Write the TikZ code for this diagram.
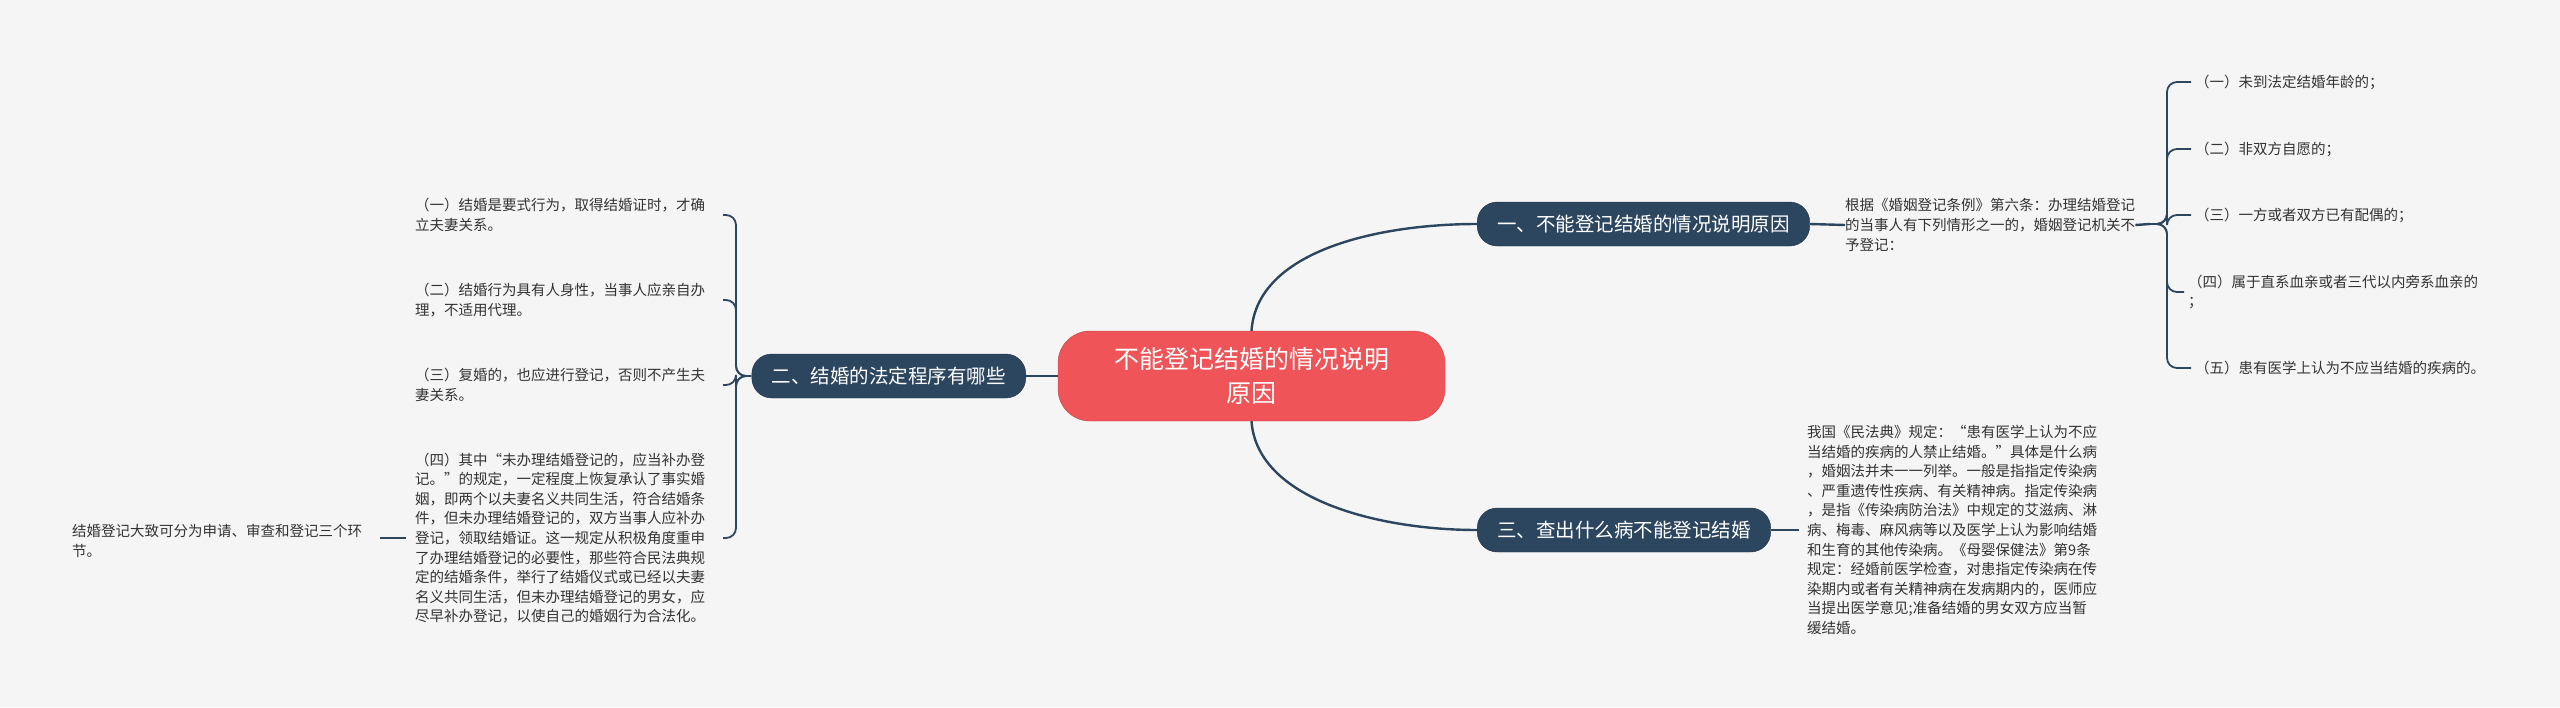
\documentclass[tikz,border=0pt]{standalone}
\usepackage{fontspec}
\setmainfont{Noto Sans CJK SC}
\definecolor{bg}{HTML}{F5F5F5}
\definecolor{navy}{HTML}{2C4660}
\definecolor{redc}{HTML}{EF5558}
\definecolor{txt}{HTML}{333333}
\begin{document}
\begin{tikzpicture}[x=1pt,y=-1pt,
  small/.style={font=\fontsize{14.5}{19.6}\selectfont,text=txt,align=left,inner sep=0pt},
  branch/.style={fill=navy,draw=navy!70!black,rounded corners=20pt,text=white,
     font=\fontsize{19.5}{24}\selectfont,minimum height=44pt,inner xsep=20pt,inner ysep=0pt},
  conn/.style={draw=navy,line width=2.4pt}]
\fill[bg] (0,0) rectangle (2560,707);
\useasboundingbox (0,0) rectangle (2560,707);
% center
\node[fill=redc,draw=redc!80!black,rounded corners=32pt,text=white,align=center,
  font=\fontsize{25}{34}\selectfont,minimum width=387pt,minimum height=90pt,inner sep=0pt]
  (c) at (1251.5,376) {不能登记结婚的情况说明\\原因};
% branches
\node[branch,anchor=west] (b1) at (1477,224) {一、不能登记结婚的情况说明原因};
\node[branch,anchor=west] (b3) at (1477,530) {三、查出什么病不能登记结婚};
\node[branch,anchor=east] (b2) at (1026,376) {二、结婚的法定程序有哪些};
\draw[conn] (c.north) .. controls (1257,250) and (1380,224) .. (b1.west);
\draw[conn] (c.south) .. controls (1257,500) and (1380,530) .. (b3.west);
\draw[conn] (c.west) -- (b2.east);
% branch 1 text
\node[small,anchor=west] (t1) at (1845,225) {根据《婚姻登记条例》第六条：办理结婚登记\\的当事人有下列情形之一的，婚姻登记机关不\\予登记：};
\draw[conn] (b1.east) -- (t1.west);
\node[small,anchor=west] (r1) at (2195,82) {（一）未到法定结婚年龄的；};
\node[small,anchor=west] (r2) at (2195,149) {（二）非双方自愿的；};
\node[small,anchor=west] (r3) at (2195,215) {（三）一方或者双方已有配偶的；};
\node[small,anchor=west] (r4) at (2188,292) {（四）属于直系血亲或者三代以内旁系血亲的\\；};
\node[small,anchor=west] (r5) at (2195,368) {（五）患有医学上认为不应当结婚的疾病的。};
\coordinate (j1) at (2150,224);
\draw[conn] (t1.east) -- (j1);
\foreach \r in {r1,r2,r3,r4,r5}{
  \draw[conn,line width=1.8pt,rounded corners=10pt] (j1) -- (2167,224) |- ([xshift=-4pt]\r.west);
}
% branch 3 text
\node[small,anchor=west] (t3) at (1807,530) {我国《民法典》规定：“患有医学上认为不应\\当结婚的疾病的人禁止结婚。”具体是什么病\\，婚姻法并未一一列举。一般是指指定传染病\\、严重遗传性疾病、有关精神病。指定传染病\\，是指《传染病防治法》中规定的艾滋病、淋\\病、梅毒、麻风病等以及医学上认为影响结婚\\和生育的其他传染病。《母婴保健法》第9条\\规定：经婚前医学检查，对患指定传染病在传\\染期内或者有关精神病在发病期内的，医师应\\当提出医学意见;准备结婚的男女双方应当暂\\缓结婚。};
\draw[conn] (b3.east) -- ([xshift=-8pt]t3.west);
% branch 2 items
\node[small,anchor=west] (l1) at (415,215) {（一）结婚是要式行为，取得结婚证时，才确\\立夫妻关系。};
\node[small,anchor=west] (l2) at (415,300) {（二）结婚行为具有人身性，当事人应亲自办\\理，不适用代理。};
\node[small,anchor=west] (l3) at (415,385) {（三）复婚的，也应进行登记，否则不产生夫\\妻关系。};
\node[small,anchor=west] (l4) at (415,538) {（四）其中“未办理结婚登记的，应当补办登\\记。”的规定，一定程度上恢复承认了事实婚\\姻，即两个以夫妻名义共同生活，符合结婚条\\件，但未办理结婚登记的，双方当事人应补办\\登记，领取结婚证。这一规定从积极角度重申\\了办理结婚登记的必要性，那些符合民法典规\\定的结婚条件，举行了结婚仪式或已经以夫妻\\名义共同生活，但未办理结婚登记的男女，应\\尽早补办登记，以使自己的婚姻行为合法化。};
\coordinate (j2) at (751,376);
\foreach \l/\yy in {l1/215,l2/300,l3/385,l4/538}{
  \draw[conn,line width=1.8pt,rounded corners=10pt] (j2) -- (736,376) |- (723,\yy);
}
\node[small,anchor=west] (f) at (72,541) {结婚登记大致可分为申请、审查和登记三个环\\节。};
\draw[conn] (380,538) coordinate (fa) -- (406,538) coordinate (fb);
\end{tikzpicture}
\end{document}
